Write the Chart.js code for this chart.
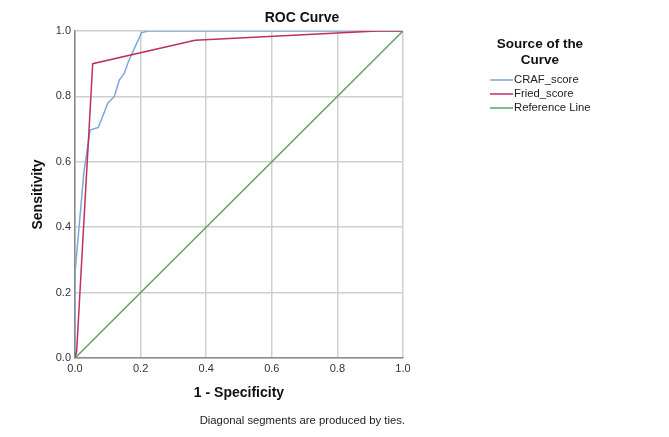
<!DOCTYPE html>
<html>
<head>
<meta charset="utf-8">
<title>ROC Curve</title>
<script src="https://cdn.jsdelivr.net/npm/chart.js@4.4.1/dist/chart.umd.min.js"></script>
<style>
  html, body { margin: 0; padding: 0; background: #fff; }
  #wrap { width: 669px; height: 437px; }
</style>
</head>
<body>
<div id="wrap"><canvas id="roc" width="669" height="437"></canvas></div>
<script>
// values
const seriesNames = ["CRAF_score", "Fried_score", "Reference Line"];
const crafX = [0, 0, 0.027, 0.046, 0.071, 0.10, 0.12, 0.135, 0.15, 0.163, 0.203, 0.224, 1];
const crafY = [0, 0.26, 0.566, 0.697, 0.705, 0.779, 0.80, 0.85, 0.87, 0.907, 0.995, 1, 1];
const friedX = [0, 0.005, 0.054, 0.366, 0.92, 1];
const friedY = [0, 0.02, 0.90, 0.972, 1, 1];
const refX = [0, 1];
const refY = [0, 1];
const tickLabels = ["0.0", "0.2", "0.4", "0.6", "0.8", "1.0"];

const colors = ["#7ba7da", "#c0305a", "#5ea35e"];
const FONT = "Arial, 'Liberation Sans', sans-serif";

function toPoints(xs, ys) {
  return xs.map((x, i) => ({ x: x, y: ys[i] }));
}

const textPlugin = {
  id: "spssText",
  afterDraw(chart) {
    const ctx = chart.ctx;
    ctx.save();
    ctx.fillStyle = "#111";
    ctx.textBaseline = "middle";

    // title
    ctx.textAlign = "center";
    ctx.font = "bold 14px " + FONT;
    ctx.fillText("ROC Curve", 302, 18);

    // legend
    ctx.font = "bold 13.5px " + FONT;
    ctx.fillText("Source of the", 540, 44);
    ctx.fillText("Curve", 540, 60);
    ctx.font = "11.3px " + FONT;
    ctx.textAlign = "left";
    seriesNames.forEach((name, i) => {
      const y = 80 + i * 14;
      ctx.strokeStyle = colors[i];
      ctx.lineWidth = 1.5;
      ctx.beginPath();
      ctx.moveTo(490, y);
      ctx.lineTo(513, y);
      ctx.stroke();
      ctx.fillStyle = "#222";
      ctx.fillText(name, 514, y);
    });

    // footnote
    ctx.textAlign = "right";
    ctx.font = "11.3px " + FONT;
    ctx.fillStyle = "#222";
    ctx.fillText("Diagonal segments are produced by ties.", 405, 421);
    ctx.restore();
  }
};

new Chart(document.getElementById("roc"), {
  type: "scatter",
  data: {
    datasets: [
      { label: seriesNames[0], data: toPoints(crafX, crafY), borderColor: colors[0], order: 3 },
      { label: seriesNames[1], data: toPoints(friedX, friedY), borderColor: colors[1], order: 2 },
      { label: seriesNames[2], data: toPoints(refX, refY), borderColor: colors[2], order: 1 }
    ].map(ds => Object.assign(ds, {
      showLine: true,
      borderWidth: 1.5,
      pointRadius: 0,
      tension: 0,
      fill: false
    }))
  },
  options: {
    responsive: false,
    animation: false,
    layout: { padding: { top: 31, right: 266, bottom: 0, left: 0 } },
    plugins: {
      legend: { display: false },
      tooltip: { enabled: false }
    },
    scales: {
      x: {
        type: "linear",
        min: 0,
        max: 1,
        afterFit(scale) { scale.height = 79; },
        afterBuildTicks(scale) {
          scale.ticks = tickLabels.map(t => ({ value: parseFloat(t) }));
        },
        ticks: {
          padding: 4,
          color: "#333",
          font: { family: FONT, size: 11 },
          callback: (v, i) => tickLabels[i]
        },
        grid: { color: "#cfcfcf", lineWidth: 1.5, drawTicks: false },
        border: { color: "#8a8a8a", width: 1.5 },
        title: {
          display: true,
          text: "1 - Specificity",
          color: "#111",
          font: { family: FONT, size: 14, weight: "bold" },
          padding: { top: 0, bottom: 35 }
        }
      },
      y: {
        type: "linear",
        min: 0,
        max: 1,
        afterFit(scale) { scale.width = 75; },
        afterBuildTicks(scale) {
          scale.ticks = tickLabels.map(t => ({ value: parseFloat(t) }));
        },
        ticks: {
          padding: 4,
          color: "#333",
          font: { family: FONT, size: 11 },
          callback: (v, i) => tickLabels[i]
        },
        grid: { color: "#cfcfcf", lineWidth: 1.5, drawTicks: false },
        border: { color: "#8a8a8a", width: 1.5 },
        title: {
          display: true,
          text: "Sensitivity",
          color: "#111",
          font: { family: FONT, size: 14, weight: "bold" },
          padding: { top: 30, bottom: 0 }
        }
      }
    }
  },
  plugins: [textPlugin]
});
</script>
</body>
</html>
